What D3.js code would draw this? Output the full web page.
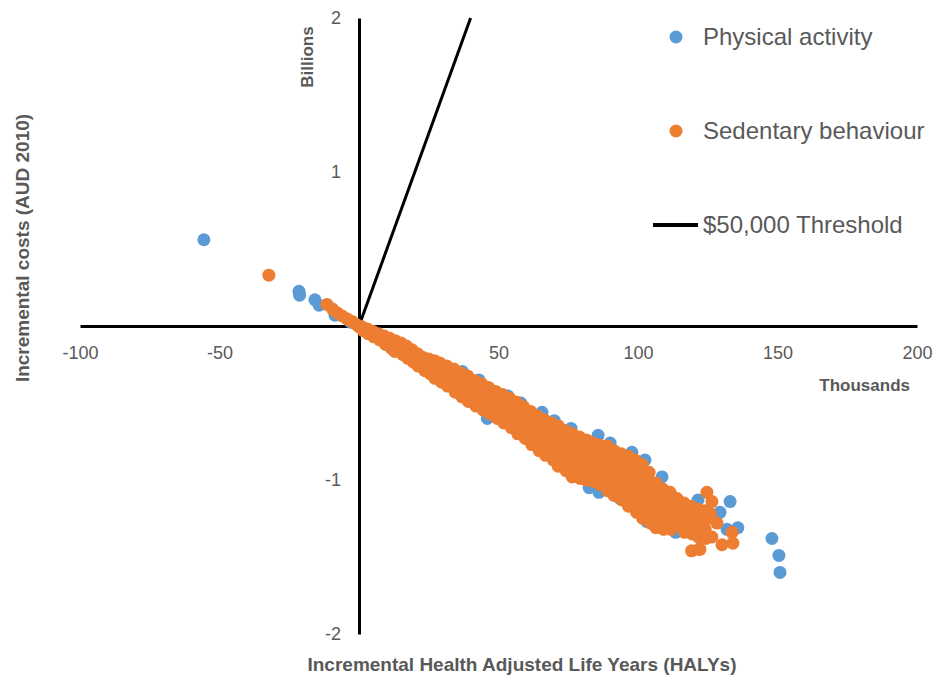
<!DOCTYPE html>
<html>
<head>
<meta charset="utf-8">
<script src="https://cdn.jsdelivr.net/npm/d3@7"></script>
<style>
  body { margin: 0; background: #fff; }
  svg { display: block; font-family: "Liberation Sans", Arial, sans-serif; }
</style>
</head>
<body>
<svg id="chart" width="935" height="677"></svg>
<script>
// x in thousands of HALYs, y in billions of AUD
const xTicks = [-100, -50, 50, 100, 150, 200];
const yTicks = [-2, -1, 1, 2];
const seriesNames = ['Physical activity', 'Sedentary behaviour', '$50,000 Threshold'];
const seriesColors = ['#5B9BD5', '#ED7D31', '#000000'];
const thresholdPerHaly = 50000;
const thresholdHalys = [0, 40];

const physicalActivity = [
  [-55.6, 0.56], [-21.5, 0.225], [-21.3, 0.2], [-15.8, 0.17], [-14.3, 0.135], [-8.6, 0.07], [-3, 0.025],
  [2, -0.03], [8, -0.08], [16, -0.15], [22, -0.22], [30, -0.33], [37, -0.295], [43, -0.35], [46, -0.6],
  [53.4, -0.455], [58, -0.5], [62, -0.68], [65.6, -0.56], [70, -0.615], [76, -0.665], [80, -0.95],
  [82.5, -1.05], [85.7, -0.71], [86, -1.08], [90, -0.76], [93.5, -1.12], [97.8, -0.82], [100, -1.05],
  [102.5, -0.87], [103.2, -1.27], [108.6, -0.98], [110, -1.2], [113.5, -1.34], [118, -1.25], [121.5, -1.13],
  [129.4, -1.21], [131.9, -1.32], [133, -1.14], [135.8, -1.31], [148, -1.38], [150.5, -1.49], [150.9, -1.6]
];

const sedentaryBehaviour = [
  [-32.3, 0.33], [-11.5, 0.14], [-9.5, 0.11], [-7.8, 0.085], [-6, 0.065], [-4.2, 0.045], [-2.5, 0.03], [-1, 0.01], [0, -0.005],
  [1, -0.005], [1.5, -0.03], [3, -0.02], [3.3, -0.05], [5, -0.035], [5.3, -0.07], [7, -0.05], [7.4, -0.09],
  [9, -0.065], [9.2, -0.1], [9.5, -0.12], [11, -0.08], [11.3, -0.115], [11.6, -0.145],
  [13, -0.095], [13.4, -0.13], [12.8, -0.165], [15, -0.11], [15.3, -0.15], [15.6, -0.185],
  [17, -0.13], [17.2, -0.17], [17.5, -0.21], [19, -0.155], [19.3, -0.19], [19.5, -0.235],
  [21, -0.18], [21.4, -0.22], [21.2, -0.26], [23, -0.205], [23.3, -0.245], [23.6, -0.29],
  [25, -0.215], [25.2, -0.26], [25.5, -0.31], [27, -0.225], [27.3, -0.27], [27.5, -0.3], [27.2, -0.34],
  [29, -0.24], [29.4, -0.29], [29.2, -0.33], [29.6, -0.365], [31.5, -0.26], [31.8, -0.3], [31.3, -0.345], [31.7, -0.39],
  [34, -0.28], [34.3, -0.33], [34.1, -0.38], [34.5, -0.43], [36.5, -0.305], [36.8, -0.35], [36.4, -0.4], [36.9, -0.46],
  [39, -0.325], [39.3, -0.37], [39.1, -0.42], [39.5, -0.46], [39.2, -0.49],
  [41.5, -0.355], [41.8, -0.4], [41.4, -0.45], [41.7, -0.49], [41.9, -0.52],
  [44, -0.375], [44.3, -0.42], [44.1, -0.47], [44.4, -0.51], [44.5, -0.545],
  [46.5, -0.4], [46.8, -0.45], [46.3, -0.5], [46.7, -0.54], [46.9, -0.57],
  [49, -0.425], [49.3, -0.47], [49.1, -0.52], [49.4, -0.56], [49.6, -0.6],
  [51.5, -0.445], [51.8, -0.5], [51.3, -0.55], [51.6, -0.6], [51.9, -0.63],
  [54, -0.47], [54.3, -0.52], [54.1, -0.58], [54.4, -0.63], [54.6, -0.66],
  [56.5, -0.495], [56.8, -0.55], [56.3, -0.61], [56.7, -0.66], [56.9, -0.7],
  [59, -0.525], [59.3, -0.58], [59.1, -0.64], [59.4, -0.69], [59.6, -0.73],
  [61.5, -0.555], [61.8, -0.61], [61.3, -0.67], [61.6, -0.72], [61.9, -0.77],
  [64, -0.585], [64.3, -0.64], [64.1, -0.7], [64.4, -0.76], [64.6, -0.81],
  [66.5, -0.61], [66.8, -0.67], [66.3, -0.73], [66.7, -0.79], [66.9, -0.84],
  [69, -0.63], [69.3, -0.69], [69.1, -0.75], [69.4, -0.81], [69.6, -0.87],
  [71.5, -0.65], [71.8, -0.71], [71.3, -0.77], [71.6, -0.83], [71.9, -0.88], [71.4, -0.91],
  [74, -0.68], [74.3, -0.74], [74.1, -0.8], [74.4, -0.85], [74.6, -0.9], [74.2, -0.94],
  [76.5, -0.7], [76.8, -0.76], [76.3, -0.82], [76.7, -0.87], [76.9, -0.93], [76.4, -0.98],
  [79, -0.72], [79.3, -0.78], [79.1, -0.84], [79.4, -0.89], [79.6, -0.94], [79.2, -0.99],
  [81.5, -0.74], [81.8, -0.8], [81.3, -0.86], [81.6, -0.91], [81.9, -0.96], [81.4, -1],
  [84, -0.76], [84.3, -0.81], [84.1, -0.87], [84.4, -0.92], [84.6, -0.97], [84.2, -1.01],
  [86.5, -0.775], [86.8, -0.83], [86.3, -0.89], [86.7, -0.94], [86.9, -0.99], [86.4, -1.03],
  [89, -0.78], [89.3, -0.84], [89.1, -0.9], [89.4, -0.96], [89.6, -1.02], [89.2, -1.07],
  [91.5, -0.81], [91.8, -0.87], [91.3, -0.93], [91.6, -0.99], [91.9, -1.05], [91.4, -1.1],
  [94, -0.83], [94.3, -0.89], [94.1, -0.95], [94.4, -1.01], [94.6, -1.07], [94.2, -1.13],
  [96.5, -0.845], [96.8, -0.91], [96.3, -0.97], [96.7, -1.03], [96.9, -1.09], [96.4, -1.14], [96.6, -1.17],
  [99, -0.87], [99.3, -0.93], [99.1, -0.99], [99.4, -1.05], [99.6, -1.11], [99.2, -1.16], [99.5, -1.21],
  [101.5, -0.9], [101.8, -0.96], [101.3, -1.02], [101.6, -1.08], [101.9, -1.14], [101.4, -1.2], [101.7, -1.25],
  [104, -0.95], [104.3, -1.01], [104.1, -1.07], [104.4, -1.13], [104.6, -1.18], [104.2, -1.23], [104.5, -1.28],
  [106.5, -1.02], [106.8, -1.08], [106.3, -1.13], [106.7, -1.19], [106.9, -1.24], [106.4, -1.31],
  [109, -1.06], [109.3, -1.11], [109.1, -1.16], [109.4, -1.21], [109.6, -1.27], [109.2, -1.32],
  [111.5, -1.08], [111.8, -1.14], [111.3, -1.2], [111.6, -1.26], [111.9, -1.32],
  [114, -1.12], [114.3, -1.18], [114.1, -1.24], [114.4, -1.29],
  [116.5, -1.15], [116.8, -1.21], [116.3, -1.27], [116.7, -1.34],
  [119, -1.17], [119.3, -1.23], [119.1, -1.29], [119.4, -1.35], [119.2, -1.46],
  [121.5, -1.19], [121.8, -1.25], [121.3, -1.31], [121.6, -1.37], [121.9, -1.45],
  [124, -1.2], [124.3, -1.26], [124.1, -1.32], [124.4, -1.38],
  [124.7, -1.08], [126.5, -1.14], [126, -1.22], [128.3, -1.28], [126.5, -1.37], [130.1, -1.42],
  [134, -1.41], [133.7, -1.34], [122.2, -1.45]
];

const textColor = '#595959';
const dotRadius = 6.5;

const svg = d3.select('#chart');
svg.append('rect').attr('width', 935).attr('height', 677).attr('fill', '#fff');

const x = d3.scaleLinear().domain([-100, 200]).range([80, 917]);
const y = d3.scaleLinear().domain([-2, 2]).range([634, 18]);

function drawAxes() {
  const xAxis = d3.axisBottom(x).tickValues(xTicks).tickFormat(d => String(d)).tickSize(0).tickPadding(20);
  const gx = svg.append('g')
    .attr('class', 'x axis')
    .attr('transform', `translate(0,${y(0)})`)
    .call(xAxis);

  const yAxis = d3.axisLeft(y).tickValues(yTicks).tickFormat(d => String(d)).tickSize(0).tickPadding(18);
  const gy = svg.append('g')
    .attr('class', 'y axis')
    .attr('transform', `translate(${x(0)},0)`)
    .call(yAxis);

  [gx, gy].forEach(g => {
    g.attr('font-family', null).attr('font-size', null);
    g.select('.domain').attr('stroke', '#000').attr('stroke-width', 3);
    g.selectAll('.tick text').attr('fill', textColor).style('font-size', '18px');
  });
}

function drawThreshold() {
  const pts = thresholdHalys.map(h => [h, h * 1000 * thresholdPerHaly / 1e9]);
  svg.append('path')
    .datum(pts)
    .attr('fill', 'none')
    .attr('stroke', seriesColors[2])
    .attr('stroke-width', 3)
    .attr('d', d3.line().x(d => x(d[0])).y(d => y(d[1])));
}

function drawSeries(data, color, cls) {
  svg.append('g')
    .attr('class', cls)
    .selectAll('circle')
    .data(data)
    .enter()
    .append('circle')
    .attr('cx', d => x(d[0]))
    .attr('cy', d => y(d[1]))
    .attr('r', dotRadius)
    .attr('fill', color);
}

function drawTitles() {
  const bold = (sel, size) => sel.attr('fill', textColor).attr('font-weight', 'bold').style('font-size', size + 'px');

  bold(svg.append('text'), 19)
    .attr('x', 522).attr('y', 671)
    .attr('text-anchor', 'middle')
    .text('Incremental Health Adjusted Life Years (HALYs)');

  bold(svg.append('text'), 19)
    .attr('transform', 'translate(29,248) rotate(-90)')
    .attr('text-anchor', 'middle')
    .text('Incremental costs (AUD 2010)');

  bold(svg.append('text'), 17)
    .attr('transform', 'translate(313,57) rotate(-90)')
    .attr('text-anchor', 'middle')
    .text('Billions');

  bold(svg.append('text'), 17)
    .attr('x', 910).attr('y', 391)
    .attr('text-anchor', 'end')
    .text('Thousands');
}

function drawLegend() {
  const rows = [37, 131, 225];
  const lg = svg.append('g').attr('class', 'legend');
  seriesNames.forEach((name, i) => {
    if (i < 2) {
      lg.append('circle').attr('cx', 676).attr('cy', rows[i]).attr('r', dotRadius).attr('fill', seriesColors[i]);
    } else {
      lg.append('line')
        .attr('x1', 653).attr('x2', 698)
        .attr('y1', rows[i]).attr('y2', rows[i])
        .attr('stroke', seriesColors[i]).attr('stroke-width', 4);
    }
    lg.append('text')
      .attr('x', 703).attr('y', rows[i]).attr('dy', '0.35em')
      .attr('fill', textColor)
      .style('font-size', '24px')
      .text(name);
  });
}

drawAxes();
drawThreshold();
drawSeries(physicalActivity, seriesColors[0], 'physical');
drawSeries(sedentaryBehaviour, seriesColors[1], 'sedentary');
drawTitles();
drawLegend();
</script>
</body>
</html>
